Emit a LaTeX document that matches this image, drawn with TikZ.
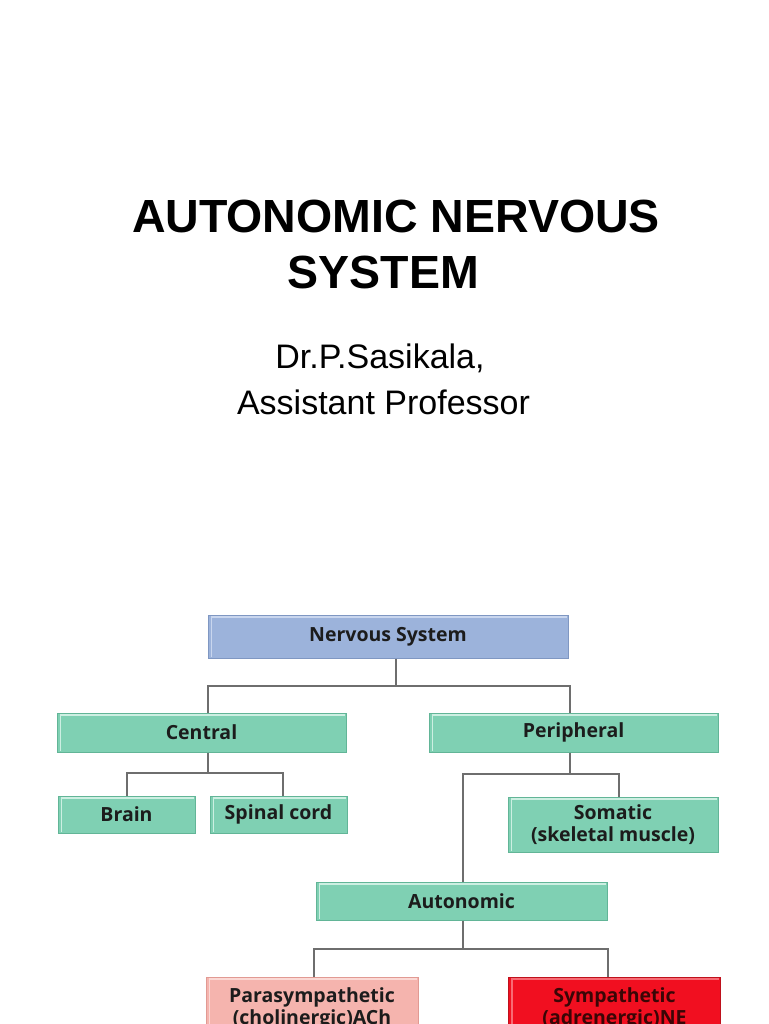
\documentclass[tikz,border=0pt]{standalone}
\usepackage{fontspec}
\setmainfont{Liberation Sans}
\newfontfamily\boxfont{Open Sans}
\definecolor{nsfill}{HTML}{9CB3DB}
\definecolor{nsedge}{HTML}{7F97C2}
\definecolor{nslight}{HTML}{C9D6EE}
\definecolor{grfill}{HTML}{7FD0B3}
\definecolor{gredge}{HTML}{62B597}
\definecolor{grlight}{HTML}{CDEFE2}
\definecolor{pkfill}{HTML}{F5B4AE}
\definecolor{pkedge}{HTML}{E19A93}
\definecolor{pklight}{HTML}{FBD9D5}
\definecolor{rdfill}{HTML}{F10F20}
\definecolor{rdedge}{HTML}{BE111C}
\definecolor{rdlight}{HTML}{F86A74}
\definecolor{conn}{HTML}{6E6E6E}
\definecolor{boxtext}{HTML}{1C1C1C}
\definecolor{redtext}{HTML}{3A0606}
\tikzset{
  box/.style={rectangle, inner sep=0pt, line width=1pt, text=boxtext,
    font=\boxfont\bfseries\fontsize{19.5}{22}\selectfont, align=center},
  greenbox/.style={box, fill=grfill, draw=gredge},
  bluebox/.style={box, fill=nsfill, draw=nsedge},
  pinkbox/.style={box, fill=pkfill, draw=pkedge},
  redbox/.style={box, fill=rdfill, draw=rdedge, text=redtext},
  wire/.style={draw=conn, line width=2pt},
  titletext/.style={anchor=base, font=\bfseries\fontsize{46.5}{50}\selectfont},
  subtext/.style={anchor=base, font=\fontsize{34}{38}\selectfont}
}
\newcommand{\bevel}[2]{%
  \draw[#2, line width=1.2pt] ([xshift=4pt,yshift=2pt]#1.south west) -- ([xshift=4pt,yshift=-2.5pt]#1.north west) -- ([xshift=-2pt,yshift=-2.5pt]#1.north east);}
\begin{document}
\begin{tikzpicture}[x=1pt,y=-1pt]
\useasboundingbox (0,0) rectangle (768,1024);
\clip (0,0) rectangle (768,1024);
\fill[white] (0,0) rectangle (768,1024);

% title
\node[titletext] (t1) at (396,233) {AUTONOMIC NERVOUS};
\node[titletext] (t2) at (383.5,288) {SYSTEM};
\node[subtext] (s1) at (380,368) {Dr.P.Sasikala,};
\node[subtext] (s2) at (383.5,414) {Assistant Professor};

% boxes
\node[bluebox, minimum width=360pt, minimum height=43pt] (ns) at (388,636.5) {Nervous System};
\node[greenbox, minimum width=289pt, minimum height=39pt] (central) at (201.5,732.5) {Central};
\node[greenbox, minimum width=289pt, minimum height=39pt] (periph) at (573.5,732.5) {Peripheral};
\node[greenbox, minimum width=137pt, minimum height=37pt] (brain) at (126.5,814.5) {Brain};
\node[greenbox, minimum width=137pt, minimum height=37pt] (spinal) at (278.5,814.5) {Spinal cord};
\node[greenbox, minimum width=210pt, minimum height=55pt] (somatic) at (613,824.5) {Somatic\\(skeletal muscle)};
\node[greenbox, minimum width=291pt, minimum height=38pt] (auto) at (461.5,901) {Autonomic};
\node[pinkbox, minimum width=212pt, minimum height=62pt] (para) at (312,1008) {Parasympathetic\\(cholinergic)ACh};
\node[redbox, minimum width=212pt, minimum height=62pt] (symp) at (614.5,1008) {Sympathetic\\(adrenergic)NE};

\bevel{ns}{nslight}
\bevel{central}{grlight}
\bevel{periph}{grlight}
\bevel{brain}{grlight}
\bevel{spinal}{grlight}
\bevel{somatic}{grlight}
\bevel{auto}{grlight}
\bevel{para}{pklight}
\bevel{symp}{rdlight}

% connectors
\coordinate (j1) at (396,686);
\coordinate (j2) at (208,773);
\coordinate (j3) at (570,774);
\coordinate (j4) at (463,949);
\draw[wire] ([xshift=8pt]ns.south) -- (j1);
\draw[wire] ([xshift=6.5pt]central.north) |- (j1) -| ([xshift=-3.5pt]periph.north);
\draw[wire] ([xshift=6.5pt]central.south) -- (j2);
\draw[wire] ([xshift=0.5pt]brain.north) |- (j2) -| ([xshift=4.5pt]spinal.north);
\draw[wire] ([xshift=-3.5pt]periph.south) -- (j3);
\draw[wire] ([xshift=1.5pt]auto.north) |- (j3) -| ([xshift=6pt]somatic.north);
\draw[wire] ([xshift=1.5pt]auto.south) -- (j4);
\draw[wire] ([xshift=2pt]para.north) |- (j4) -| ([xshift=-6.5pt]symp.north);
\end{tikzpicture}
\end{document}
